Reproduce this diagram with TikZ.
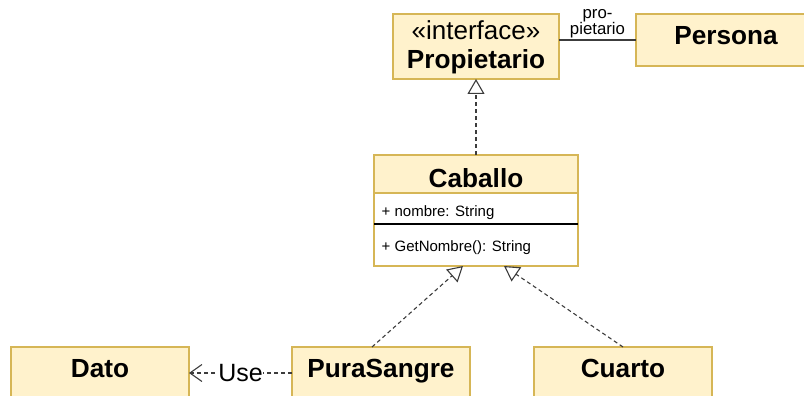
\documentclass[tikz,border=0pt]{standalone}
\usepackage{fontspec}
\setmainfont{Liberation Sans}
\usetikzlibrary{arrows.meta}
\definecolor{boxfill}{HTML}{FFF2CC}
\definecolor{boxline}{HTML}{D6B656}
\definecolor{wire}{HTML}{3C3C3C}
\begin{document}
\begin{tikzpicture}[x=1pt,y=-1pt,
  umlbox/.style={draw=boxline, fill=boxfill, line width=1.2pt, inner sep=0pt, outer sep=0pt},
  bodybox/.style={umlbox, fill=white},
  titletext/.style={font=\fontsize{26.2}{30}\selectfont\bfseries, inner sep=0pt, anchor=base},
  stereotext/.style={font=\fontsize{26}{30}\selectfont, inner sep=0pt, anchor=base},
  membertext/.style={font=\fontsize{15}{18}\selectfont, inner sep=0pt, anchor=base west},
  realize/.style={draw=wire, line width=1.1pt, dash pattern=on 4pt off 3pt,
    -{Triangle[open, length=15pt, width=17pt, fill=white]}},
  uses/.style={draw=wire, line width=1.1pt, dash pattern=on 4pt off 3pt,
    -{Straight Barb[length=12pt, width=17pt]}},
  assoc/.style={draw=wire, line width=1.3pt},
]
\useasboundingbox (0,0) rectangle (804,396);
\clip (0,0) rectangle (804,396);

% interface Propietario and class Persona
\node[umlbox, minimum width=166pt, minimum height=65pt] (prop) at (476,46.5) {};
\node[stereotext] (propstereo) at (476,39.3) {«interface»};
\node[titletext] (propname) at (476,68.3) {Propietario};

\node[umlbox, minimum width=180pt, minimum height=52pt] (pers) at (726,40) {};
\node[titletext] (persname) at (726,45) {Persona};

% class Caballo with attribute and operation compartments
\node[bodybox, minimum width=204pt, minimum height=73pt] (cabbody) at (476,229.5) {};
\node[umlbox, minimum width=204pt, minimum height=38pt] (cabhead) at (476,174) {};
\node[titletext] (cabname) at (476,187) {Caballo};
\draw[line width=1.3pt, black] (cabbody.west |- 0,224) coordinate (sepl) -- (cabbody.east |- 0,224) coordinate (sepr);
\node[membertext] (cabattr) at (381.5,216) {+ nombre: String};
\node[membertext] (cabop) at (381.5,251.5) {+ GetNombre(): String};

% bottom row
\node[umlbox, minimum width=178pt, minimum height=60pt] (dato) at (100,377) {};
\node[titletext] (datoname) at (100,377) {Dato};
\node[umlbox, minimum width=178pt, minimum height=60pt] (pura) at (381,377) {};
\node[titletext] (puraname) at (381,377) {PuraSangre};
\node[umlbox, minimum width=178pt, minimum height=60pt] (cuarto) at (623,377) {};
\node[titletext] (cuartoname) at (623,377) {Cuarto};

% relations
\draw[assoc] ([yshift=6.5pt]prop.east) -- node[anchor=south, align=center, inner sep=1pt,
  font=\fontsize{16.8}{15.2}\selectfont] (role) {pro-\\pietario} (pers.west);
\draw[realize] (cabhead.north) -- (prop.south);
\draw[realize] ([xshift=-9pt]pura.north) -- ([xshift=-13pt]cabbody.south);
\draw[realize] (cuarto.north) -- ([xshift=28pt]cabbody.south);
\draw[uses] ([yshift=4pt]pura.west) -- node[fill=white, inner sep=0.5pt,
  font=\fontsize{25}{28}\selectfont] (uselabel) {Use} ([yshift=4pt]dato.east);
\end{tikzpicture}
\end{document}
